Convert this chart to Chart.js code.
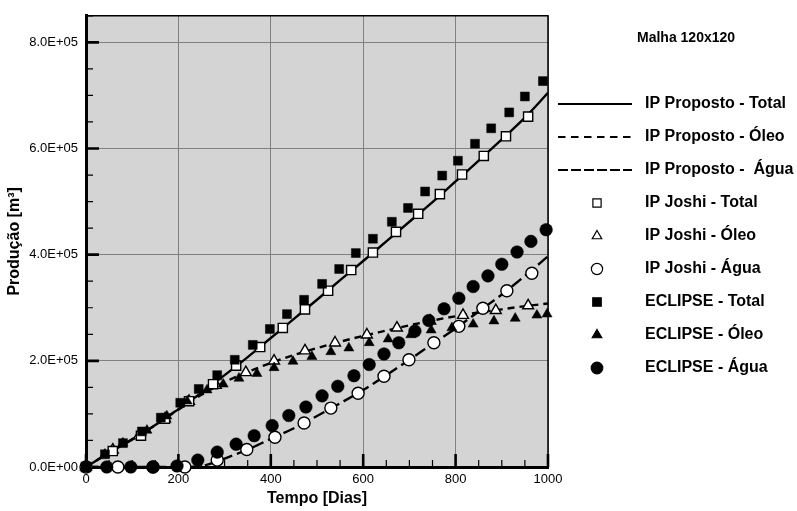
<!DOCTYPE html>
<html>
<head>
<meta charset="UTF-8">
<title>Produção x Tempo - Malha 120x120</title>
<script src="https://cdn.jsdelivr.net/npm/chart.js"></script>
<style>
  html, body { margin: 0; padding: 0; background: #fff; }
  #wrap { width: 797px; height: 511px; }
</style>
</head>
<body>
<div id="wrap"><canvas id="chart" width="797" height="511"></canvas></div>
<script>
// ---- dados (tempo em dias, producao em m3) ----

// IP Proposto (curvas)
const propDias  = [0, 50, 100, 150, 200, 250, 300, 350, 400, 450, 500, 550, 600, 650, 700, 750, 800, 850, 900, 950, 1000];
const propTotal = [0, 27000, 52000, 79000, 109000, 140000, 173000, 207000, 243000, 279000, 315000, 352000, 388000, 425000, 462000, 499000, 538000, 577000, 617000, 658000, 705000];
const propOleo  = [0, 27000, 52000, 79000, 108000, 136000, 160000, 179000, 196000, 211000, 224000, 236000, 247000, 257000, 267000, 276000, 284000, 291000, 297000, 303000, 308000];
const propAgua  = [0, 0, 0, 0, 0, 2000, 16000, 33000, 53000, 73000, 96000, 120000, 145000, 173000, 202000, 232000, 261000, 293000, 325000, 360000, 397000];

// IP Joshi (simbolos vazados)
const joshiTotalDias = [0, 58, 119, 171, 223, 275, 325, 377, 426, 474, 524, 574, 621, 671, 719, 766, 814, 861, 909, 957];
const joshiTotal     = [0, 30000, 59000, 91000, 124000, 156000, 191000, 226000, 262000, 297000, 332000, 371000, 404000, 443000, 477000, 514000, 551000, 586000, 623000, 660000];
const joshiOleoDias  = [0, 58, 115, 171, 223, 281, 346, 407, 474, 539, 608, 673, 745, 816, 887, 957];
const joshiOleo      = [0, 32000, 59000, 91000, 124000, 154000, 178000, 200000, 219000, 234000, 249000, 262000, 275000, 286000, 295000, 304000];
const joshiAguaDias  = [0, 69, 145, 214, 284, 348, 409, 472, 530, 589, 645, 699, 753, 807, 859, 911, 965];
const joshiAgua      = [0, 0, 0, 0, 13000, 33000, 56000, 83000, 111000, 139000, 171000, 202000, 234000, 265000, 299000, 332000, 365000];

// ECLIPSE (simbolos cheios)
const eclTotalDias = [0, 41, 80, 121, 162, 204, 244, 284, 322, 361, 398, 435, 472, 511, 548, 584, 621, 662, 697, 734, 771, 805, 842, 877, 916, 950, 989];
const eclTotal     = [0, 24000, 45000, 67000, 93000, 121000, 147000, 173000, 202000, 230000, 260000, 288000, 315000, 345000, 373000, 403000, 430000, 462000, 488000, 519000, 549000, 577000, 609000, 638000, 668000, 698000, 727000];
const eclOleoDias  = [0, 41, 80, 132, 175, 219, 262, 297, 331, 370, 407, 448, 489, 530, 569, 613, 654, 703, 747, 792, 838, 883, 929, 976, 998];
const eclOleo      = [0, 24000, 45000, 69000, 96000, 124000, 145000, 156000, 167000, 176000, 187000, 199000, 208000, 217000, 224000, 234000, 241000, 249000, 258000, 262000, 269000, 275000, 280000, 286000, 288000];
const eclAguaDias  = [45, 97, 145, 197, 242, 284, 325, 364, 403, 439, 476, 511, 545, 580, 613, 645, 677, 712, 742, 775, 807, 838, 870, 900, 933, 963, 996];
const eclAgua      = [0, 0, 0, 2000, 13000, 28000, 43000, 59000, 78000, 97000, 113000, 134000, 152000, 172000, 193000, 213000, 234000, 256000, 276000, 298000, 318000, 340000, 360000, 382000, 405000, 425000, 447000];

// eixos
const xTicks = [0, 200, 400, 600, 800, 1000];
const yTicks = [0, 200000, 400000, 600000, 800000];
const xMinor = 50;
const yMinor = 50000;

const legendaTitulo = 'Malha 120x120';
// -----------------------------------------------------------------

const pares = (xs, ys) => xs.map((x, i) => ({ x: x, y: ys[i] }));

// 8.0E+05
function formatoE(v) {
  if (v === 0) return '0.0E+00';
  const e = Math.floor(Math.log10(Math.abs(v)));
  const m = v / Math.pow(10, e);
  const s = e < 0 ? '-' : '+';
  return m.toFixed(1) + 'E' + s + String(Math.abs(e)).padStart(2, '0');
}

Chart.defaults.font.family = 'Arial, "Liberation Sans", Helvetica, sans-serif';
Chart.defaults.color = '#000';

function marca(ctx, estilo, x, y, r, cor) {
  ctx.beginPath();
  if (estilo === 'rect') {
    const s = r * Math.SQRT1_2;
    ctx.rect(x - s, y - s, 2 * s, 2 * s);
  } else if (estilo === 'triangle') {
    for (let k = 0; k < 3; k++) {
      const a = k * 2 * Math.PI / 3;
      ctx.lineTo(x + Math.sin(a) * r, y - Math.cos(a) * r);
    }
    ctx.closePath();
  } else {
    ctx.arc(x, y, r, 0, Math.PI * 2);
  }
  ctx.fillStyle = cor;
  ctx.fill();
  ctx.lineWidth = 1.2;
  ctx.strokeStyle = '#000';
  ctx.stroke();
}

const molduraPlugin = {
  id: 'moldura',
  beforeDraw(chart) {
    const { ctx, chartArea: a } = chart;
    ctx.save();
    ctx.fillStyle = '#d4d4d4';
    ctx.fillRect(a.left, a.top, a.right - a.left, a.bottom - a.top);
    ctx.restore();
  },
  beforeDatasetsDraw(chart) {
    const { ctx, chartArea: a, scales } = chart;
    const sx = scales.x, sy = scales.y;
    ctx.save();
    ctx.strokeStyle = '#000';
    // topo e direita
    ctx.lineWidth = 1.5;
    ctx.beginPath();
    ctx.moveTo(a.left, a.top); ctx.lineTo(a.right, a.top); ctx.lineTo(a.right, a.bottom);
    ctx.stroke();
    // marcas menores
    ctx.lineWidth = 1.2;
    ctx.beginPath();
    for (let v = sx.min; v <= sx.max; v += xMinor) {
      if (xTicks.includes(v)) continue;
      const px = sx.getPixelForValue(v);
      ctx.moveTo(px, a.bottom); ctx.lineTo(px, a.bottom - 7);
    }
    for (let v = sy.min; v <= sy.max; v += yMinor) {
      if (yTicks.includes(v)) continue;
      const py = sy.getPixelForValue(v);
      ctx.moveTo(a.left, py); ctx.lineTo(a.left + 7, py);
    }
    ctx.stroke();
    // marcas principais
    ctx.lineWidth = 2.6;
    ctx.beginPath();
    xTicks.forEach(v => {
      const px = sx.getPixelForValue(v);
      ctx.moveTo(px, a.bottom); ctx.lineTo(px, a.bottom - 13);
    });
    yTicks.forEach(v => {
      const py = sy.getPixelForValue(v);
      ctx.moveTo(a.left, py); ctx.lineTo(a.left + 13, py);
    });
    ctx.stroke();
    ctx.restore();
  },
  afterDraw(chart) {
    const { ctx } = chart;
    const ds = chart.data.datasets;
    ctx.save();
    ctx.fillStyle = '#000';
    ctx.textBaseline = 'middle';
    ctx.textAlign = 'left';
    ctx.font = 'bold 14px Arial, "Liberation Sans", sans-serif';
    ctx.fillText(legendaTitulo, 637, 38);
    ctx.font = 'bold 16px Arial, "Liberation Sans", sans-serif';
    const ordem = ds.slice().sort((p, q) => p.legendPos - q.legendPos);
    ordem.forEach((d, i) => {
      const y = 104 + i * 33;
      if (d.showLine) {
        ctx.save();
        ctx.strokeStyle = '#000';
        ctx.lineWidth = 1.8;
        ctx.setLineDash(d.legendDash || []);
        ctx.beginPath();
        ctx.moveTo(558, y); ctx.lineTo(632, y);
        ctx.stroke();
        ctx.restore();
      } else {
        marca(ctx, d.pointStyle, 597, y, d.legendRadius, d.pointBackgroundColor);
      }
      ctx.fillStyle = '#000';
      ctx.fillText(d.label, 645, y);
    });
    ctx.restore();
  }
};

const linha = (label, dias, vals, dash, legDash, pos) => ({
  label: label, data: pares(dias, vals), showLine: true, pointRadius: 0, pointHoverRadius: 0,
  borderColor: '#000', borderWidth: 2.4, borderDash: dash, legendDash: legDash,
  cubicInterpolationMode: 'monotone', fill: false, order: 2, legendPos: pos
});
const pontos = (label, dias, vals, estilo, cor, r, rLeg, ordem, pos) => ({
  label: label, data: pares(dias, vals), showLine: false, pointStyle: estilo,
  pointRadius: r, pointHoverRadius: r, pointBackgroundColor: cor, pointBorderColor: '#000',
  pointBorderWidth: cor === '#000' ? 0.5 : 1.4, legendRadius: rLeg, clip: false, order: ordem, legendPos: pos
});

new Chart(document.getElementById('chart'), {
  type: 'scatter',
  data: {
    datasets: [
      pontos('ECLIPSE - Total', eclTotalDias, eclTotal, 'rect', '#000', 6.3, 6, 0, 6),
      pontos('ECLIPSE - Óleo', eclOleoDias, eclOleo, 'triangle', '#000', 5.8, 5.5, 0, 7),
      pontos('ECLIPSE - Água', eclAguaDias, eclAgua, 'circle', '#000', 6.3, 5.8, 0, 8),
      pontos('IP Joshi - Total', joshiTotalDias, joshiTotal, 'rect', '#fff', 6.5, 5.8, 1, 3),
      pontos('IP Joshi - Óleo', joshiOleoDias, joshiOleo, 'triangle', '#fff', 6.3, 5.5, 1, 4),
      pontos('IP Joshi - Água', joshiAguaDias, joshiAgua, 'circle', '#fff', 6, 5.6, 1, 5),
      linha('IP Proposto - Total', propDias, propTotal, [], [], 0),
      linha('IP Proposto - Óleo', propDias, propOleo, [7, 5], [7.5, 5.5], 1),
      linha('IP Proposto -  Água', propDias, propAgua, [12, 5], [10, 3], 2)
    ]
  },
  options: {
    responsive: false,
    animation: false,
    events: [],
    layout: { padding: { top: 9, right: 249, left: 0, bottom: 0 } },
    plugins: { legend: { display: false }, tooltip: { enabled: false } },
    scales: {
      x: {
        type: 'linear', min: 0, max: 1000,
        afterBuildTicks: s => { s.ticks = xTicks.map(v => ({ value: v })); },
        afterFit: s => { s.height = 44; },
        ticks: { padding: 5, font: { size: 13 }, color: '#000', maxRotation: 0, autoSkip: false,
                 callback: v => String(v) },
        grid: { color: '#808080', lineWidth: 1, drawTicks: false },
        border: { color: '#000', width: 3 },
        title: { display: true, text: 'Tempo [Dias]', color: '#000',
                 font: { size: 16, weight: 'bold', lineHeight: 1.2 }, padding: { top: 0, bottom: 3 } }
      },
      y: {
        type: 'linear', min: 0, max: 850000,
        afterBuildTicks: s => { s.ticks = yTicks.map(v => ({ value: v })); },
        afterFit: s => { s.width = 86; },
        ticks: { padding: 8, font: { size: 13 }, color: '#000', callback: v => formatoE(v) },
        grid: { color: '#808080', lineWidth: 1, drawTicks: false },
        border: { color: '#000', width: 3 },
        title: { display: true, text: 'Produção [m³]', color: '#000',
                 font: { size: 16, weight: 'bold', lineHeight: 1.2 }, padding: { top: 5, bottom: 0 } }
      }
    }
  },
  plugins: [molduraPlugin]
});
</script>
</body>
</html>
